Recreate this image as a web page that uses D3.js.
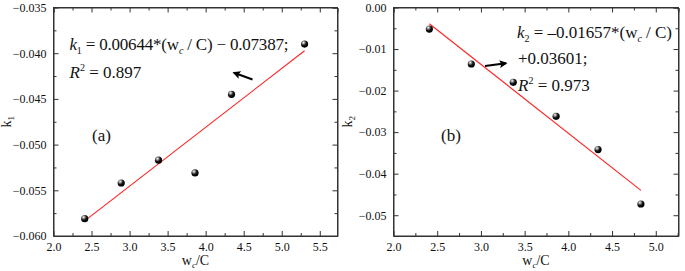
<!DOCTYPE html>
<html>
<head>
<meta charset="utf-8">
<script src="https://cdn.jsdelivr.net/npm/d3@7"></script>
<style>
  html, body { margin: 0; padding: 0; background: #fff; }
  svg { display: block; }
  svg text { font-family: "Liberation Serif", "Times New Roman", serif !important; }
</style>
</head>
<body>
<svg id="chart" width="685" height="271"></svg>
<script>
// ---- data ----
const xA = [2.41, 2.89, 3.38, 3.86, 4.34, 5.30];
const yA = [-0.0581, -0.0542, -0.0517, -0.0531, -0.0445, -0.0390];
const fitA = [0.00644, -0.07387]; // slope, intercept
const xTicksA = [2.0, 2.5, 3.0, 3.5, 4.0, 4.5, 5.0, 5.5];
const yTicksA = [-0.060, -0.055, -0.050, -0.045, -0.040, -0.035];

const xB = [2.41, 2.89, 3.37, 3.86, 4.34, 4.83];
const yB = [-0.0052, -0.0136, -0.0180, -0.0262, -0.0342, -0.0473];
const fitB = [-0.01657, 0.03601];
const xTicksB = [2.0, 2.5, 3.0, 3.5, 4.0, 4.5, 5.0];
const yTicksB = [0.00, -0.01, -0.02, -0.03, -0.04, -0.05];

const svg = d3.select("#chart");
const defs = svg.append("defs");
const grad = defs.append("radialGradient").attr("id", "ball")
  .attr("cx", "35%").attr("cy", "30%").attr("r", "65%");
grad.append("stop").attr("offset", "0%").attr("stop-color", "#ffffff");
grad.append("stop").attr("offset", "25%").attr("stop-color", "#9a9a9a");
grad.append("stop").attr("offset", "60%").attr("stop-color", "#151515");
grad.append("stop").attr("offset", "100%").attr("stop-color", "#000000");
defs.append("marker").attr("id", "arrow").attr("viewBox", "0 0 10 10")
  .attr("refX", 8).attr("refY", 5).attr("markerWidth", 4).attr("markerHeight", 4)
  .attr("orient", "auto")
  .append("path").attr("d", "M0,0 L10,5 L0,10 L2,5 z").attr("fill", "#000");

const AX = "#333";

function panel(cfg) {
  const g = svg.append("g");
  const x = d3.scaleLinear().domain(cfg.xDom).range([cfg.left, cfg.right]);
  const y = d3.scaleLinear().domain(cfg.yDom).range([cfg.bottom, cfg.top]);

  const xMinor = d3.range(cfg.xTicks[0], cfg.xDom[1] + 1e-9, 0.25)
    .filter(v => !cfg.xTicks.some(t => Math.abs(t - v) < 1e-9));
  const yMinor = cfg.yMinor.filter(v => !cfg.yTicks.some(t => Math.abs(t - v) < 1e-9));

  const bottomAx = d3.axisBottom(x).tickValues(cfg.xTicks).tickSize(-5).tickSizeOuter(0)
    .tickFormat(d3.format(".1f")).tickPadding(6);
  const gb = g.append("g").attr("transform", `translate(0,${cfg.bottom})`).call(bottomAx);
  gb.selectAll("text").style("font-size", "12px").attr("fill", "#111");
  gb.append("g").call(d3.axisBottom(x).tickValues(xMinor).tickSize(-3).tickFormat(""))
    .select(".domain").remove();

  const topAx = d3.axisTop(x).tickValues(cfg.xTicks).tickSize(-5).tickFormat("");
  const gt = g.append("g").attr("transform", `translate(0,${cfg.top})`).call(topAx);
  gt.append("g").call(d3.axisTop(x).tickValues(xMinor).tickSize(-3).tickFormat(""))
    .select(".domain").remove();

  const leftAx = d3.axisLeft(y).tickValues(cfg.yTicks).tickSize(-5).tickSizeOuter(0)
    .tickFormat(d3.format(cfg.yFmt)).tickPadding(7);
  const gl = g.append("g").attr("transform", `translate(${cfg.left},0)`).call(leftAx);
  gl.selectAll("text").style("font-size", "12px").attr("fill", "#111");
  gl.append("g").call(d3.axisLeft(y).tickValues(yMinor).tickSize(-3).tickFormat(""))
    .select(".domain").remove();

  const rightAx = d3.axisRight(y).tickValues(cfg.yTicks).tickSize(-5).tickFormat("");
  const gr = g.append("g").attr("transform", `translate(${cfg.right},0)`).call(rightAx);
  gr.append("g").call(d3.axisRight(y).tickValues(yMinor).tickSize(-3).tickFormat(""))
    .select(".domain").remove();

  g.selectAll(".domain").attr("stroke", AX).attr("stroke-width", 1);
  g.selectAll(".tick line").attr("stroke", AX);

  g.append("rect").attr("x", cfg.left).attr("y", cfg.top)
    .attr("width", cfg.right - cfg.left).attr("height", cfg.bottom - cfg.top)
    .attr("fill", "none").attr("stroke", AX).attr("stroke-width", 1);

  const x0 = d3.min(cfg.xs), x1 = d3.max(cfg.xs);
  g.append("line")
    .attr("x1", x(x0)).attr("y1", y(cfg.fit[0] * x0 + cfg.fit[1]))
    .attr("x2", x(x1)).attr("y2", y(cfg.fit[0] * x1 + cfg.fit[1]))
    .attr("stroke", "#ff2020").attr("stroke-width", 1.1);

  g.selectAll("circle.pt").data(cfg.xs.map((v, i) => [v, cfg.ys[i]])).enter()
    .append("circle").attr("class", "pt")
    .attr("cx", d => x(d[0])).attr("cy", d => y(d[1])).attr("r", 3.6)
    .attr("fill", "url(#ball)");

  const xt = g.append("text").attr("x", (cfg.left + cfg.right) / 2).attr("y", 264.5)
    .attr("text-anchor", "middle").style("font-size", "14px").attr("fill", "#111");
  xt.append("tspan").text("w");
  xt.append("tspan").style("font-size", "9px").attr("font-style", "italic").attr("dy", 3).text("c");
  xt.append("tspan").attr("dy", -3).text("/C");

  const yt = g.append("text")
    .attr("transform", `translate(${cfg.yLabX},${(cfg.top + cfg.bottom) / 2}) rotate(-90)`)
    .attr("text-anchor", "middle").style("font-size", "14px").attr("fill", "#111");
  yt.append("tspan").text("k");
  yt.append("tspan").style("font-size", "9px").attr("dy", 3).text(cfg.sub);

  g.append("text").attr("x", cfg.tagX).attr("y", 141).style("font-size", "17px")
    .attr("fill", "#111").text(cfg.tag);
  return g;
}

function eqLine(g, xPos, yPos, len, parts) {
  const t = g.append("text").attr("x", xPos).attr("y", yPos).style("font-size", "17px")
    .attr("fill", "#111").attr("xml:space", "preserve");
  if (len) t.attr("textLength", len).attr("lengthAdjust", "spacing");
  parts.forEach(p => {
    const s = t.append("tspan").text(p.t);
    if (p.i) s.attr("font-style", "italic");
    if (p.s) s.style("font-size", p.s + "px");
    if (p.dy) s.attr("dy", p.dy);
  });
}

const gA = panel({
  xDom: [2.0, 5.733], yDom: [-0.060, -0.035], left: 53.5, right: 337.5, top: 7.5, bottom: 236,
  xTicks: xTicksA, yTicks: yTicksA, yMinor: d3.range(-0.060, -0.0349, 0.0025), yFmt: ".3f",
  xs: xA, ys: yA, fit: fitA, yLabX: 11, sub: "1", tag: "(a)", tagX: 92
});
eqLine(gA, 69.5, 50, 219, [
  {t: "k", i: true}, {t: "1", s: 10, dy: 4}, {t: " = 0.00644", dy: -4}, {t: "*(w"},
  {t: "c", i: true, s: 10, dy: 4}, {t: " / C) − 0.07387;", dy: -4}
]);
eqLine(gA, 69.5, 78, 0, [
  {t: "R", i: true}, {t: "2", s: 10, dy: -7}, {t: " = 0.897", dy: 7}
]);
gA.append("line").attr("x1", 252.5).attr("y1", 79.5).attr("x2", 234).attr("y2", 72.7)
  .attr("stroke", "#000").attr("stroke-width", 2).attr("marker-end", "url(#arrow)");

const gB = panel({
  xDom: [2.0, 5.26], yDom: [-0.055, 0.0], left: 393.5, right: 678.5, top: 7.5, bottom: 236,
  xTicks: xTicksB, yTicks: yTicksB, yMinor: d3.range(-0.055, 0.0001, 0.005), yFmt: ".2f",
  xs: xB, ys: yB, fit: fitB, yLabX: 352, sub: "2", tag: "(b)", tagX: 441
});
eqLine(gB, 517, 38, 155, [
  {t: "k", i: true}, {t: "2", s: 10, dy: 4}, {t: " = –0.01657", dy: -4}, {t: "*(w"},
  {t: "c", i: true, s: 10, dy: 4}, {t: " / C)", dy: -4}
]);
eqLine(gB, 518, 63.5, 0, [{t: "+0.03601;"}]);
eqLine(gB, 518, 91, 0, [
  {t: "R", i: true}, {t: "2", s: 10, dy: -7}, {t: " = 0.973", dy: 7}
]);
gB.append("line").attr("x1", 485).attr("y1", 66).attr("x2", 506).attr("y2", 63.3)
  .attr("stroke", "#000").attr("stroke-width", 2).attr("marker-end", "url(#arrow)");
</script>
</body>
</html>
